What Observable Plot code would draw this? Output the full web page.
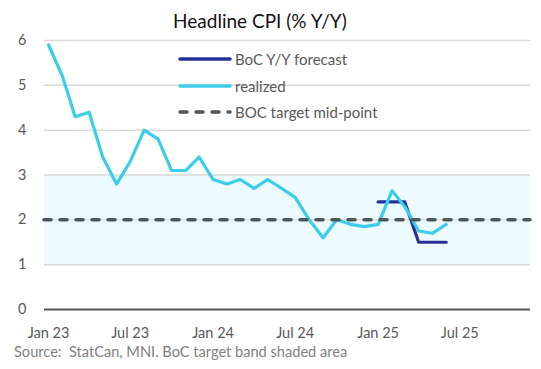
<!DOCTYPE html>
<html>
<head>
<meta charset="utf-8">
<script src="https://cdn.jsdelivr.net/npm/d3@7"></script>
<script src="https://cdn.jsdelivr.net/npm/@observablehq/plot@0.6"></script>
<style>
  body { margin: 0; background: #fff; }
  #wrap { position: relative; width: 541px; height: 369px; font-family: Lato, "Open Sans", sans-serif; }
  #wrap svg { position: absolute; left: 0; top: 0; }
  .abs { position: absolute; white-space: nowrap; }
  #title { top: 9px; left: 0; width: 520px; text-align: center; font-size: 19px; color: #111; line-height: 24px; }
  #caption { left: 14px; top: 343px; font-size: 14.6px; color: #7f7f7f; line-height: 18px; }
  .leg { left: 178px; font-size: 15px; color: #595959; line-height: 18px; display: flex; align-items: center; }
  .leg svg { position: static !important; margin-right: 3px; }
</style>
</head>
<body>
<div id="wrap">
  <div id="chart"></div>
  <div id="title" class="abs">Headline CPI (% Y/Y)</div>
  <div id="legend"></div>
  <div id="caption" class="abs">Source:&nbsp; StatCan, MNI. BoC target band shaded area</div>
</div>
<script>
// ---- data ----
const realizedMonths = ["2023-01","2023-02","2023-03","2023-04","2023-05","2023-06","2023-07","2023-08","2023-09","2023-10","2023-11","2023-12",
  "2024-01","2024-02","2024-03","2024-04","2024-05","2024-06","2024-07","2024-08","2024-09","2024-10","2024-11","2024-12",
  "2025-01","2025-02","2025-03","2025-04","2025-05","2025-06"];
const realizedValues = [5.9,5.2,4.3,4.4,3.4,2.8,3.3,4.0,3.8,3.1,3.1,3.4,
  2.9,2.8,2.9,2.7,2.9,2.7,2.5,2.0,1.6,2.0,1.9,1.85,
  1.9,2.65,2.3,1.75,1.7,1.9];
const forecastMonths = ["2025-01","2025-02","2025-03","2025-04","2025-05","2025-06"];
const forecastValues = [2.4,2.4,2.4,1.5,1.5,1.5];
const targetMid = 2;
const bandLow = 1;
const bandHigh = 3;
const xTickMonths = ["2023-01","2023-07","2024-01","2024-07","2025-01","2025-07"];
const yTicks = [0,1,2,3,4,5,6];
const seriesNames = ["BoC Y/Y forecast","realized","BOC target mid-point"];
const colors = {forecast: "#26309a", realized: "#3bcdec", target: "#4b5759", band: "#eefbfe", grid: "#d9d9d9", axis: "#595959"};

const parse = d3.utcParse("%Y-%m");
const realized = realizedMonths.map((m, i) => ({date: parse(m), value: realizedValues[i]}));
const forecast = forecastMonths.map((m, i) => ({date: parse(m), value: forecastValues[i]}));

const chart = Plot.plot({
  width: 541,
  height: 369,
  marginLeft: 44,
  marginRight: 11,
  marginTop: 40,
  marginBottom: 60,
  style: {fontFamily: "Lato, 'Open Sans', sans-serif", fontSize: "14.5px", color: colors.axis, background: "transparent", overflow: "visible"},
  x: {
    type: "utc",
    domain: [new Date(Date.UTC(2022, 11, 23)), new Date(Date.UTC(2025, 11, 5))],
    label: null
  },
  y: {domain: [0, 6], label: null},
  marks: [
    Plot.rect([{lo: bandLow, hi: bandHigh}], {y1: "lo", y2: "hi", fill: colors.band}),
    Plot.gridY(yTicks.filter(d => d > 0), {stroke: colors.grid, strokeOpacity: 1, strokeWidth: 1.5}),
    Plot.ruleY([0], {stroke: colors.axis, strokeWidth: 2}),
    Plot.line(forecast, {x: "date", y: "value", stroke: colors.forecast, strokeWidth: 3.2, strokeLinejoin: "round", strokeLinecap: "round"}),
    Plot.line(realized, {x: "date", y: "value", stroke: colors.realized, strokeWidth: 3.2, strokeLinejoin: "round", strokeLinecap: "round"}),
    Plot.ruleY([targetMid], {stroke: colors.target, strokeWidth: 3.5, strokeDasharray: "7,9", strokeLinecap: "round"}),
    Plot.axisX({ticks: xTickMonths.map(parse), tickFormat: d3.utcFormat("%b %y"), tickSize: 0, tickPadding: 18, label: null}),
    Plot.axisY({ticks: yTicks, tickFormat: d3.format("d"), tickSize: 0, tickPadding: 18, label: null})
  ]
});
document.getElementById("chart").appendChild(chart);

// legend
const legend = document.getElementById("legend");
const legStyles = [
  {stroke: colors.forecast, dash: null, top: 50},
  {stroke: colors.realized, dash: null, top: 77},
  {stroke: colors.target, dash: "7,9", top: 103}
];
seriesNames.forEach((name, i) => {
  const s = legStyles[i];
  const row = document.createElement("div");
  row.className = "abs leg";
  row.style.top = s.top + "px";
  row.innerHTML = `<svg width="54" height="18"><line x1="2" x2="52" y1="9" y2="9" stroke="${s.stroke}" stroke-width="3.5" stroke-linecap="round" ${s.dash ? `stroke-dasharray="${s.dash}"` : ""}/></svg><span>${name}</span>`;
  legend.appendChild(row);
});
</script>
</body>
</html>
